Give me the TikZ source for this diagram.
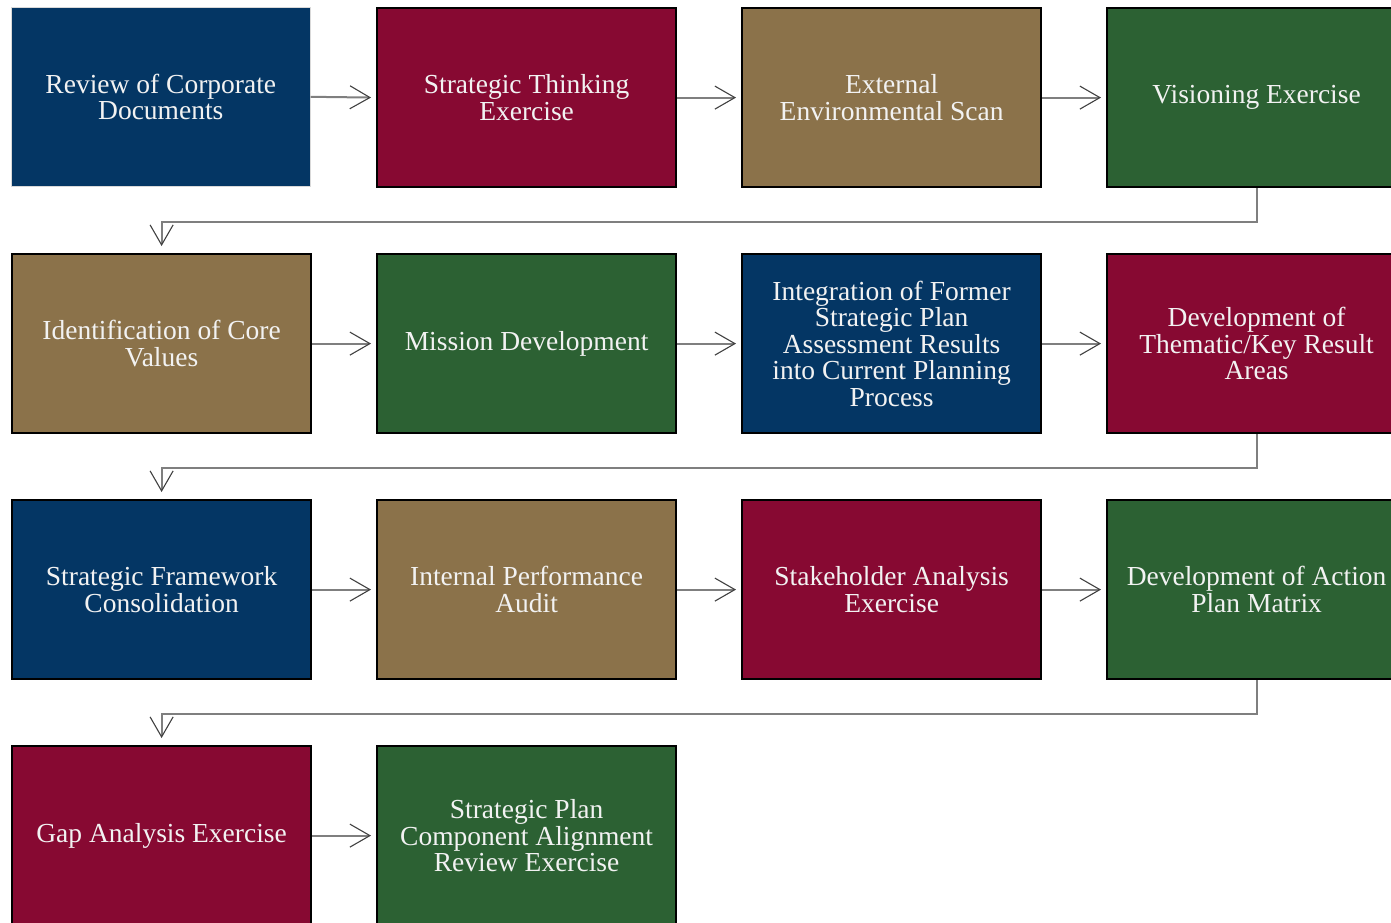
\documentclass[tikz,border=0pt]{standalone}
\usepackage{fontspec}
\setmainfont{Liberation Serif}
\usetikzlibrary{arrows.meta}
\definecolor{cblue}{HTML}{043664}
\definecolor{cred}{HTML}{870932}
\definecolor{cbrown}{HTML}{8B724A}
\definecolor{cgreen}{HTML}{2C6133}
\definecolor{ctext}{HTML}{F2F2F2}
\definecolor{cline}{HTML}{7F7F7F}
\definecolor{ctip}{HTML}{404040}
\tikzset{
  stepbox/.style={draw=black, line width=2.2pt, minimum width=299pt, minimum height=179pt,
    inner sep=0pt, anchor=north west, align=center, text=ctext,
    font=\fontsize{27.5}{26.5}\selectfont},
  conn/.style={draw=cline, line width=2pt, -{Straight Barb[length=20pt,width=23pt,line width=1.1pt,color=ctip]}, shorten >=5pt}
}
\begin{document}
\begin{tikzpicture}[x=1pt,y=-1pt]
\useasboundingbox (0,0) rectangle (1391,922);
\begin{scope}
\clip (0,0) rectangle (1391,922);
% row 1
\node[stepbox, fill=cblue, draw=gray!30, line width=0.6pt] (b1) at (11,7) {Review of Corporate\\Documents};
\node[stepbox, fill=cred] (b2) at (376,7) {Strategic Thinking\\Exercise};
\node[stepbox, fill=cbrown] (b3) at (741,7) {External\\Environmental Scan};
\node[stepbox, fill=cgreen] (b4) at (1106,7) {Visioning Exercise};
% row 2
\node[stepbox, fill=cbrown] (b5) at (11,253) {Identification of Core\\Values};
\node[stepbox, fill=cgreen] (b6) at (376,253) {Mission Development};
\node[stepbox, fill=cblue] (b7) at (741,253) {Integration of Former\\Strategic Plan\\Assessment Results\\into Current Planning\\Process};
\node[stepbox, fill=cred] (b8) at (1106,253) {Development of\\Thematic/Key Result\\Areas};
% row 3
\node[stepbox, fill=cblue] (b9) at (11,499) {Strategic Framework\\Consolidation};
\node[stepbox, fill=cbrown] (b10) at (376,499) {Internal Performance\\Audit};
\node[stepbox, fill=cred] (b11) at (741,499) {Stakeholder Analysis\\Exercise};
\node[stepbox, fill=cgreen] (b12) at (1106,499) {Development of Action\\Plan Matrix};
% row 4
\node[stepbox, fill=cred] (b13) at (11,745) {Gap Analysis Exercise};
\node[stepbox, fill=cgreen] (b14) at (376,745) {Strategic Plan\\Component Alignment\\Review Exercise};
% connectors
\draw[conn] (b1.east) -- (b2.west);
\draw[conn] (b2.east) -- (b3.west);
\draw[conn] (b3.east) -- (b4.west);
\draw[conn] (b5.east) -- (b6.west);
\draw[conn] (b6.east) -- (b7.west);
\draw[conn] (b7.east) -- (b8.west);
\draw[conn] (b9.east) -- (b10.west);
\draw[conn] (b10.east) -- (b11.west);
\draw[conn] (b11.east) -- (b12.west);
\draw[conn] (b13.east) -- (b14.west);
\draw[conn, shorten >=7pt] (b4.south) -- ++(0,34) -| (b5.north);
\draw[conn, shorten >=7pt] (b8.south) -- ++(0,34) -| (b9.north);
\draw[conn, shorten >=7pt] (b12.south) -- ++(0,34) -| (b13.north);
\end{scope}
\end{tikzpicture}
\end{document}
